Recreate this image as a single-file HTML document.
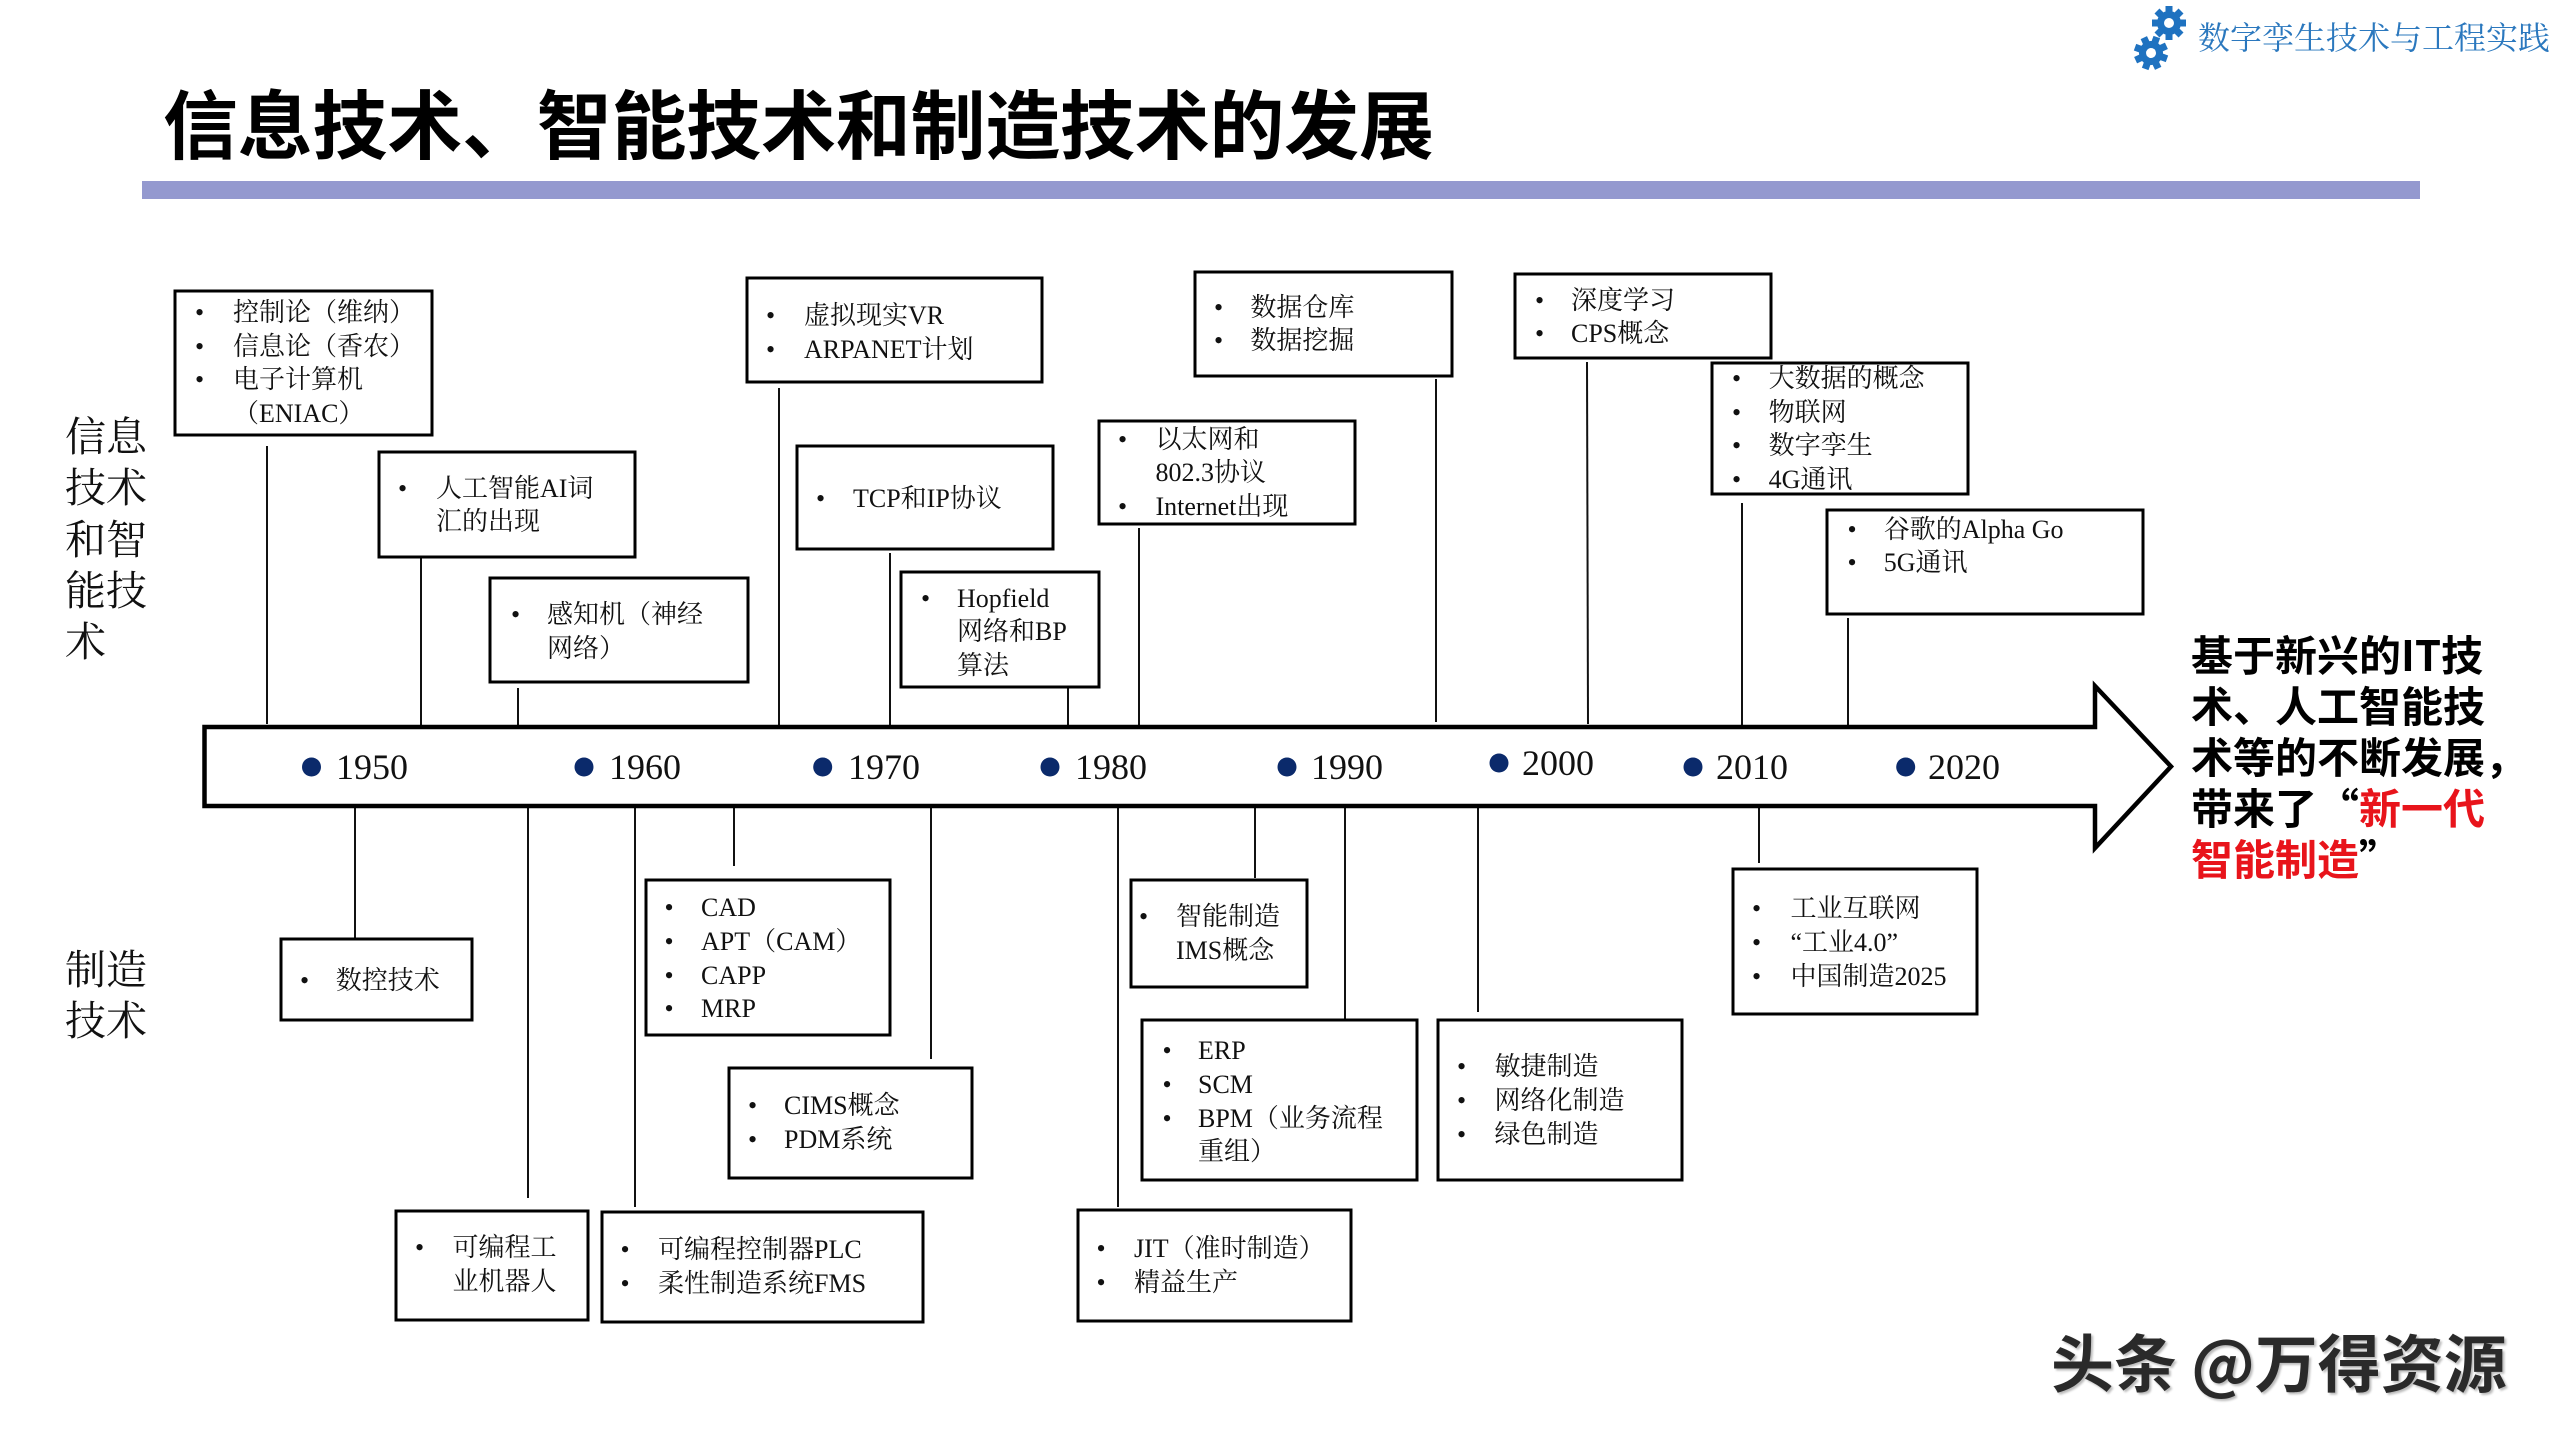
<!DOCTYPE html>
<html><head><meta charset="utf-8">
<style>
*{margin:0;padding:0;box-sizing:border-box}
html,body{width:2560px;height:1440px;background:#fff;overflow:hidden}
#c{position:relative;width:2560px;height:1440px}
svg{position:absolute;left:0;top:0}
.t,.b{position:absolute;font-family:"Liberation Serif","Noto Serif CJK SC",serif;font-size:26px;line-height:33.7px;color:#111;white-space:nowrap}
.y{position:absolute;font-family:"Liberation Serif",serif;font-size:36px;line-height:40px;color:#111;white-space:nowrap}
.lab{position:absolute;font-family:"Noto Serif CJK SC",serif;font-size:41px;line-height:51.3px;color:#111}
</style></head><body><div id="c">
<svg width="2560" height="1440" viewBox="0 0 2560 1440">
<rect x="142" y="181" width="2278" height="18" fill="#9499cf"/>
<g fill="#1f72c0">
 <g transform="translate(2169,23)">
  <circle r="12"/>
  <rect x="-3.5" y="-17" width="7" height="8"/>
  <rect x="-3.5" y="-17" width="7" height="8" transform="rotate(45)"/>
  <rect x="-3.5" y="-17" width="7" height="8" transform="rotate(90)"/>
  <rect x="-3.5" y="-17" width="7" height="8" transform="rotate(135)"/>
  <rect x="-3.5" y="-17" width="7" height="8" transform="rotate(180)"/>
  <rect x="-3.5" y="-17" width="7" height="8" transform="rotate(225)"/>
  <rect x="-3.5" y="-17" width="7" height="8" transform="rotate(270)"/>
  <rect x="-3.5" y="-17" width="7" height="8" transform="rotate(315)"/>
  <circle r="5" fill="#fff"/>
 </g>
 <g transform="translate(2151,53) rotate(20)">
  <circle r="12"/>
  <rect x="-3.5" y="-17" width="7" height="8"/>
  <rect x="-3.5" y="-17" width="7" height="8" transform="rotate(45)"/>
  <rect x="-3.5" y="-17" width="7" height="8" transform="rotate(90)"/>
  <rect x="-3.5" y="-17" width="7" height="8" transform="rotate(135)"/>
  <rect x="-3.5" y="-17" width="7" height="8" transform="rotate(180)"/>
  <rect x="-3.5" y="-17" width="7" height="8" transform="rotate(225)"/>
  <rect x="-3.5" y="-17" width="7" height="8" transform="rotate(270)"/>
  <rect x="-3.5" y="-17" width="7" height="8" transform="rotate(315)"/>
  <circle r="5" fill="#fff"/>
 </g>
</g>
<!-- connectors -->
<g stroke="#111" stroke-width="2">
 <line x1="267" y1="446" x2="267" y2="724"/>
 <line x1="421" y1="557" x2="421" y2="726"/>
 <line x1="518" y1="688" x2="518" y2="726"/>
 <line x1="779" y1="388" x2="779" y2="728"/>
 <line x1="890" y1="553" x2="890" y2="726"/>
 <line x1="1068" y1="687" x2="1068" y2="726"/>
 <line x1="1139" y1="528" x2="1139" y2="726"/>
 <line x1="1436" y1="379" x2="1436" y2="722"/>
 <line x1="1587" y1="362" x2="1588" y2="724"/>
 <line x1="1742" y1="503" x2="1742" y2="726"/>
 <line x1="1848" y1="618" x2="1848" y2="726"/>
 <line x1="355" y1="806" x2="355" y2="945"/>
 <line x1="528" y1="806" x2="528" y2="1198"/>
 <line x1="635" y1="806" x2="635" y2="1207"/>
 <line x1="734" y1="806" x2="734" y2="866"/>
 <line x1="931" y1="806" x2="931" y2="1059"/>
 <line x1="1118" y1="806" x2="1118" y2="1207"/>
 <line x1="1255" y1="806" x2="1255" y2="878"/>
 <line x1="1345" y1="806" x2="1345" y2="1021"/>
 <line x1="1478" y1="806" x2="1478" y2="1012"/>
 <line x1="1759" y1="806" x2="1759" y2="863"/>
</g>
<!-- timeline arrow -->
<polygon points="204.5,727 2095,727 2095,686 2171,766.5 2095,848 2095,806 204.5,806" fill="#fff" stroke="#000" stroke-width="4.5" stroke-linejoin="miter"/>
<g fill="#0b2a6b">
 <circle cx="311.5" cy="767" r="9.5"/>
 <circle cx="584" cy="767" r="9.5"/>
 <circle cx="822.7" cy="767" r="9.5"/>
 <circle cx="1050" cy="767" r="9.5"/>
 <circle cx="1287" cy="767" r="9.5"/>
 <circle cx="1499" cy="763" r="9.5"/>
 <circle cx="1693" cy="767" r="9.5"/>
 <circle cx="1905.7" cy="767" r="9.5"/>
</g>
<!-- boxes -->
<g fill="#fff" stroke="#000" stroke-width="3">
 <rect x="175" y="291" width="257" height="144"/>
 <rect x="379" y="452" width="256" height="105"/>
 <rect x="490" y="578" width="258" height="104"/>
 <rect x="747" y="278" width="295" height="104"/>
 <rect x="797" y="446" width="256" height="103"/>
 <rect x="901" y="572" width="198" height="115"/>
 <rect x="1099" y="421" width="256" height="103"/>
 <rect x="1195" y="272" width="257" height="104"/>
 <rect x="1515" y="274" width="256" height="84"/>
 <rect x="1712" y="363" width="256" height="131"/>
 <rect x="1827" y="510" width="316" height="104"/>
 <rect x="281" y="939" width="191" height="81"/>
 <rect x="646" y="880" width="244" height="155"/>
 <rect x="729" y="1068" width="243" height="110"/>
 <rect x="396" y="1211" width="192" height="109"/>
 <rect x="602" y="1212" width="321" height="110"/>
 <rect x="1078" y="1210" width="273" height="111"/>
 <rect x="1131" y="880" width="176" height="107"/>
 <rect x="1142" y="1020" width="275" height="160"/>
 <rect x="1438" y="1020" width="244" height="160"/>
 <rect x="1733" y="869" width="244" height="145"/>
</g>
</svg>

<!-- title -->
<div style="position:absolute;left:163px;top:83px;font-family:'Noto Sans CJK SC',sans-serif;font-weight:700;font-size:75px;line-height:75px;letter-spacing:-0.25px;color:#000;white-space:nowrap">信息技术、智能技术和制造技术的发展</div>
<!-- logo text -->
<div style="position:absolute;left:2198px;top:16px;font-family:'Noto Serif CJK SC',serif;font-size:32px;line-height:40px;color:#2b78be;white-space:nowrap">数字孪生技术与工程实践</div>

<!-- side labels -->
<div class="lab" style="left:65px;top:408px">信息<br>技术<br>和智<br>能技<br>术</div>
<div class="lab" style="left:65px;top:941px">制造<br>技术</div>

<!-- years -->
<div class="y" style="left:336px;top:747px">1950</div>
<div class="y" style="left:609px;top:747px">1960</div>
<div class="y" style="left:848px;top:747px">1970</div>
<div class="y" style="left:1075px;top:747px">1980</div>
<div class="y" style="left:1311px;top:747px">1990</div>
<div class="y" style="left:1522px;top:743px">2000</div>
<div class="y" style="left:1716px;top:747px">2010</div>
<div class="y" style="left:1928px;top:747px">2020</div>

<!-- box texts: bullets -->
<div class="b" style="left:195px;top:296px">•<br>•<br>•</div>
<div class="t" style="left:233px;top:296px">控制论（维纳）<br>信息论（香农）<br>电子计算机<br>（ENIAC）</div>

<div class="b" style="left:398px;top:471.6px">•</div>
<div class="t" style="left:436px;top:471.6px">人工智能AI词<br>汇的出现</div>

<div class="b" style="left:511px;top:598.2px">•</div>
<div class="t" style="left:547px;top:598.2px">感知机（神经<br>网络）</div>

<div class="b" style="left:766px;top:299.2px">•<br>•</div>
<div class="t" style="left:804px;top:299.2px">虚拟现实VR<br>ARPANET计划</div>

<div class="b" style="left:816px;top:481.6px">•</div>
<div class="t" style="left:853px;top:481.6px">TCP和IP协议</div>

<div class="b" style="left:921px;top:581.6px">•</div>
<div class="t" style="left:957px;top:581.6px">Hopfield<br>网络和BP<br>算法</div>

<div class="b" style="left:1118px;top:422.7px">•<br>&nbsp;<br>•</div>
<div class="t" style="left:1155.5px;top:422.7px">以太网和<br>802.3协议<br>Internet出现</div>

<div class="b" style="left:1214px;top:290.6px">•<br>•</div>
<div class="t" style="left:1250.4px;top:290.6px">数据仓库<br>数据挖掘</div>

<div class="b" style="left:1535px;top:283.5px">•<br>•</div>
<div class="t" style="left:1571px;top:283.5px">深度学习<br>CPS概念</div>

<div class="b" style="left:1732px;top:362px">•<br>•<br>•<br>•</div>
<div class="t" style="left:1768.6px;top:362px">大数据的概念<br>物联网<br>数字孪生<br>4G通讯</div>

<div class="b" style="left:1847.5px;top:512.7px">•<br>•</div>
<div class="t" style="left:1883.7px;top:512.7px">谷歌的Alpha Go<br>5G通讯</div>

<div class="b" style="left:300px;top:964.2px">•</div>
<div class="t" style="left:335.7px;top:964.2px">数控技术</div>

<div class="b" style="left:664.5px;top:891.2px">•<br>•<br>•<br>•</div>
<div class="t" style="left:701px;top:891.2px">CAD<br>APT（CAM）<br>CAPP<br>MRP</div>

<div class="b" style="left:748px;top:1089.2px">•<br>•</div>
<div class="t" style="left:784px;top:1089.2px">CIMS概念<br>PDM系统</div>

<div class="b" style="left:415px;top:1231.2px">•</div>
<div class="t" style="left:452.5px;top:1231.2px">可编程工<br>业机器人</div>

<div class="b" style="left:620.5px;top:1233.2px">•<br>•</div>
<div class="t" style="left:658px;top:1233.2px">可编程控制器PLC<br>柔性制造系统FMS</div>

<div class="b" style="left:1096.5px;top:1232.2px">•<br>•</div>
<div class="t" style="left:1134px;top:1232.2px">JIT（准时制造）<br>精益生产</div>

<div class="b" style="left:1139px;top:900.2px">•</div>
<div class="t" style="left:1176px;top:900.2px">智能制造<br>IMS概念</div>

<div class="b" style="left:1162.5px;top:1034.2px">•<br>•<br>•</div>
<div class="t" style="left:1198px;top:1034.2px">ERP<br>SCM<br>BPM（业务流程<br>重组）</div>

<div class="b" style="left:1457px;top:1050.2px">•<br>•<br>•</div>
<div class="t" style="left:1494.5px;top:1050.2px">敏捷制造<br>网络化制造<br>绿色制造</div>

<div class="b" style="left:1752px;top:892.2px">•<br>•<br>•</div>
<div class="t" style="left:1790.5px;top:892.2px">工业互联网<br>“工业4.0”<br>中国制造2025</div>

<!-- right callout -->
<div style="position:absolute;left:2191px;top:627.5px;font-family:'Noto Sans CJK SC',sans-serif;font-weight:700;font-size:42px;line-height:51px;color:#000;white-space:nowrap">基于新兴的IT技<br>术、人工智能技<br>术等的不断发展，<br>带来了“<span style="color:#e8141b">新一代</span><br><span style="color:#e8141b">智能制造</span>”</div>

<!-- watermark -->
<div style="position:absolute;left:2051px;top:1326px;font-family:'Noto Sans CJK SC',sans-serif;font-weight:700;font-size:63px;line-height:70px;color:#2a2a2a;white-space:nowrap;text-shadow:2px 2px 2px #bbb">头条 @万得资源</div>
</div></body></html>
